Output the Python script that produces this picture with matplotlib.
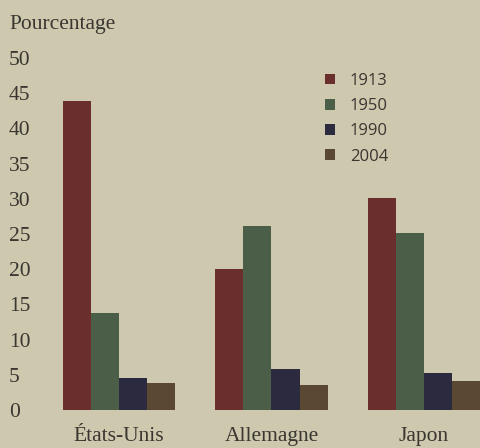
import matplotlib.pyplot as plt
import numpy as np

# data
pays = ["États-Unis", "Allemagne", "Japon"]
annees = ["1913", "1950", "1990", "2004"]
v1913 = [43.9, 20.0, 30.1]
v1950 = [13.8, 26.1, 25.1]
v1990 = [4.5, 5.8, 5.3]
v2004 = [3.8, 3.6, 4.1]
yticks = [0, 5, 10, 15, 20, 25, 30, 35, 40, 45, 50]

series = [v1913, v1950, v1990, v2004]
couleurs = ["#6a2e2c", "#4b5e47", "#2b2a3f", "#5b4832"]
fond = "#cdc8ae"
texte = "#3a3630"

fig = plt.figure(figsize=(4.81, 4.48), dpi=100, facecolor=fond)
ax = fig.add_axes([0.131, 0.0848, 0.869, 0.7857])
ax.set_facecolor(fond)

x = np.arange(len(pays))
w = 0.184
for i, vals in enumerate(series):
    ax.bar(x + (i - 1.5) * w, vals, width=w, color=couleurs[i],
           label=annees[i], edgecolor="none")

ax.set_xlim(-0.367, 2.374)
ax.set_ylim(0, 50)
for s in ax.spines.values():
    s.set_visible(False)

serif = "Liberation Serif"
ax.set_yticks(yticks)
ax.set_yticklabels([str(t) for t in yticks], fontfamily=serif, fontsize=15.5,
                   color=texte, ha="left")
ax.tick_params(axis="y", length=0, pad=39)
ax.set_xticks(x)
ax.set_xticklabels(pays, fontfamily=serif, fontsize=15.5, color=texte)
ax.tick_params(axis="x", length=0, pad=12)

fig.text(9 / 481, 1 - 25 / 448, "Pourcentage", fontfamily=serif, fontsize=15.5,
         color=texte, va="center", ha="left")

leg = ax.legend(loc="upper left", bbox_to_anchor=(0.592, 1.0), frameon=False,
                handlelength=0.6, handleheight=0.6, handletextpad=0.85,
                labelspacing=0.55, prop={"family": "Open Sans", "size": 12})
for t in leg.get_texts():
    t.set_color(texte)

fig.savefig("out.png", dpi=100, facecolor=fond)
